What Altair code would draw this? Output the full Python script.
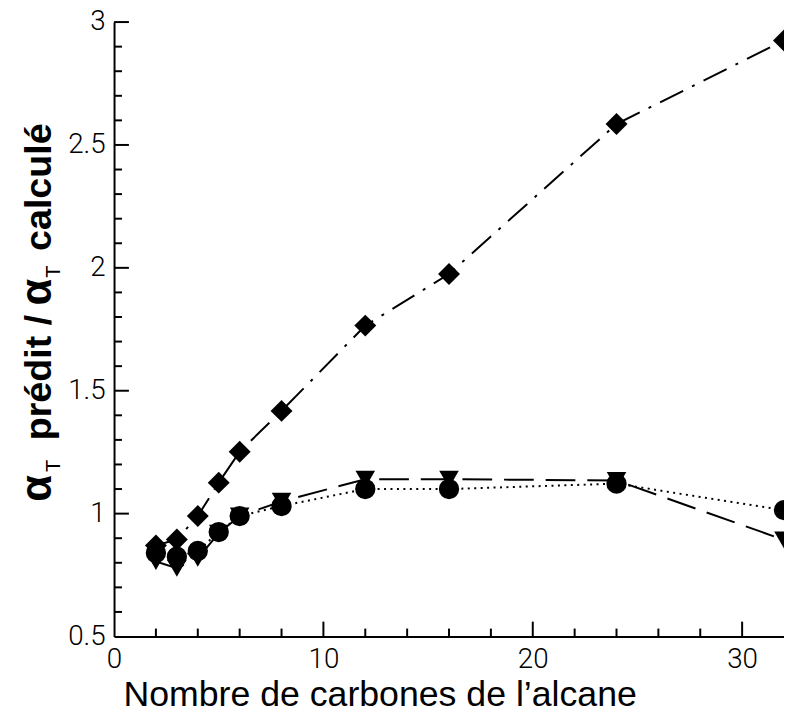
import altair as alt
import pandas as pd

# ---- data ----
carbons = [2, 3, 4, 5, 6, 8, 12, 16, 24, 32]
diamond_vals = [0.87, 0.895, 0.99, 1.126, 1.252, 1.418, 1.765, 1.975, 2.585, 2.925]
triangle_vals = [0.805, 0.778, 0.818, 0.92, 0.99, 1.05, 1.14, 1.14, 1.135, 0.893]
circle_vals = [0.84, 0.825, 0.848, 0.925, 0.99, 1.031, 1.10, 1.10, 1.122, 1.014]

x_label_values = [0, 10, 20, 30]
y_label_values = [0.5, 1.0, 1.5, 2.0, 2.5, 3.0]
x_major_ticks = [10, 20, 30]
x_minor_ticks = [2, 4, 6, 8, 12, 14, 16, 18, 22, 24, 26, 28]
y_major_ticks = [1.0, 1.5, 2.0, 2.5, 3.0]
y_minor_ticks = [0.6, 0.7, 0.8, 0.9, 1.1, 1.2, 1.3, 1.4, 1.6, 1.7, 1.8, 1.9,
                 2.1, 2.2, 2.3, 2.4, 2.6, 2.7, 2.8, 2.9]

x_title = "Nombre de carbones de l\u2019alcane"

W, H = 676, 620
LABEL_FONT = "Roboto, Liberation Sans, sans-serif"
TITLE_FONT = "Liberation Sans, Arial, sans-serif"

xs = alt.Scale(domain=[0, 32], nice=False, zero=False)
ys = alt.Scale(domain=[0.5, 3], nice=False, zero=False)

x_axis = alt.Axis(values=x_label_values, format="d", ticks=False, grid=False,
                  domainColor="black", domainWidth=2,
                  labelFont=LABEL_FONT, labelFontSize=28, labelFontWeight=300,
                  labelColor="black",
                  labelPadding=9, labelFlush=False, labelOverlap=False,
                  title=x_title, titleFont=TITLE_FONT, titleFontSize=36,
                  titleFontWeight="normal", titleColor="black",
                  titleAnchor="start", titleAlign="center", titleBaseline="alphabetic",
                  titleX=268, titleY=70)
y_axis = alt.Axis(values=y_label_values, format="~g", ticks=False, grid=False,
                  domainColor="black", domainWidth=2,
                  labelFont=LABEL_FONT, labelFontSize=28, labelFontWeight=300,
                  labelColor="black",
                  labelPadding=9, labelFlush=False, labelOverlap=False,
                  labelBaseline="middle", title=None)


def series(vals, shape, size, dash):
    df = pd.DataFrame({"n": carbons, "r": vals})
    base = alt.Chart(df)
    line = base.mark_line(color="black", strokeWidth=2, strokeDash=dash,
                          interpolate="linear").encode(
        x=alt.X("n:Q", scale=xs, axis=x_axis),
        y=alt.Y("r:Q", scale=ys, axis=y_axis))
    pts = base.mark_point(shape=shape, size=size, filled=True, color="black",
                          opacity=1).encode(
        x=alt.X("n:Q", scale=xs, axis=x_axis),
        y=alt.Y("r:Q", scale=ys, axis=y_axis))
    return line, pts


tri_line, tri_pts = series(triangle_vals, "triangle-down", 390, [30, 12])
cir_line, cir_pts = series(circle_vals, "circle", 420, [2, 4.5])
dia_line, dia_pts = series(diamond_vals, "diamond", 490, [26, 10, 3, 10])


def xticks(vals, length):
    return alt.Chart(pd.DataFrame({"n": vals})).mark_rule(
        color="black", strokeWidth=2).encode(
        x=alt.X("n:Q", scale=xs, axis=x_axis),
        y=alt.value(H), y2=alt.value(H - length))


def yticks(vals, length):
    return alt.Chart(pd.DataFrame({"r": vals})).mark_rule(
        color="black", strokeWidth=2).encode(
        y=alt.Y("r:Q", scale=ys, axis=y_axis),
        x=alt.value(0), x2=alt.value(length))


def label(txt, x, y, size, weight="bold"):
    return alt.Chart(alt.Data(values=[{}])).mark_text(
        text=txt, angle=270, align="left", baseline="alphabetic",
        font=TITLE_FONT, fontSize=size, fontWeight=weight, color="black").encode(
        x=alt.value(x), y=alt.value(y))


ytitle = [
    label("\u03b1", -64, 484, 44),
    label("T", -55, 454, 20, "normal"),
    label("pr\u00e9dit /", -64, 422, 38),
    label("\u03b1", -64, 286, 44),
    label("T", -55, 258, 20, "normal"),
    label("calcul\u00e9", -64, 231, 38),
]

chart = alt.layer(
    tri_line, cir_line, dia_line,
    tri_pts, cir_pts, dia_pts,
    xticks(x_minor_ticks, 8), xticks(x_major_ticks, 15),
    yticks(y_minor_ticks, 8), yticks(y_major_ticks, 15),
    *ytitle,
).properties(
    width=W, height=H, background="white",
    autosize=alt.AutoSizeParams(type="none"),
    padding={"left": 107, "top": 11, "right": 0, "bottom": 75},
).configure_view(stroke=None)

chart.save("out.html", embed_options={"renderer": "svg", "actions": False})
